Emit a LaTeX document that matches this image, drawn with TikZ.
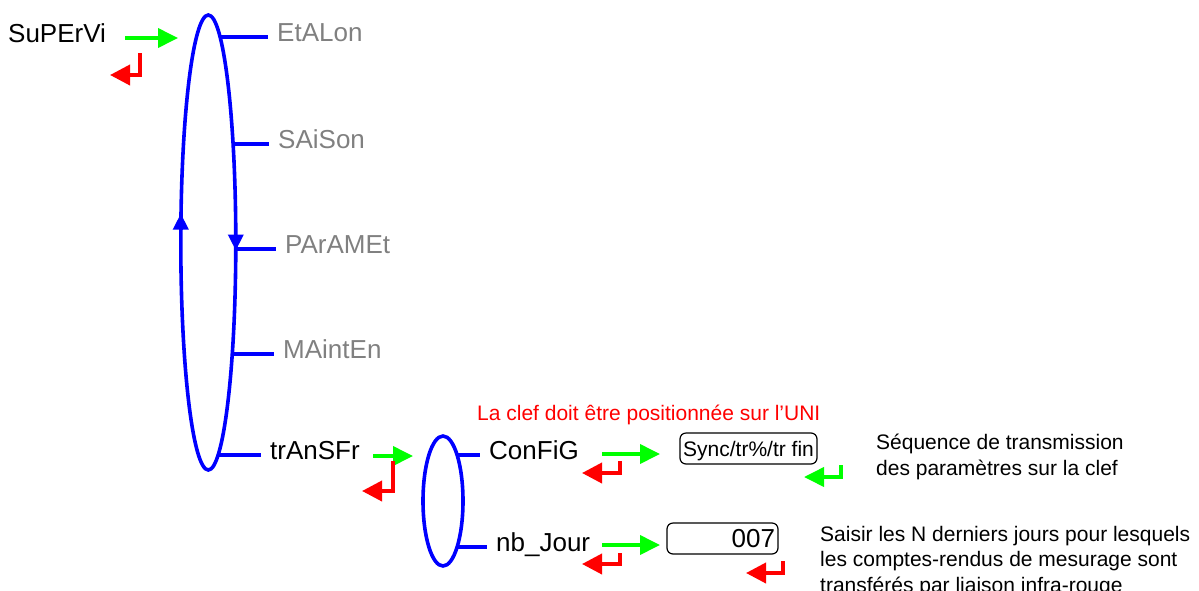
\documentclass[tikz,border=0pt]{standalone}
\usepackage{fontspec}
\setmainfont{Liberation Sans}
\usetikzlibrary{arrows.meta}
\usetikzlibrary{shapes.geometric}
\definecolor{menugray}{RGB}{128,128,128}
\definecolor{keygreen}{RGB}{0,255,0}

\begin{document}
\begin{tikzpicture}[x=1pt,y=-1pt,
	loopline/.style={draw=blue,line width=3.6pt,ellipse,inner sep=0pt,outer sep=0pt},
	tick/.style={blue,line width=3.6pt},
	item/.style={anchor=west,inner xsep=9pt,inner ysep=0pt,font=\fontsize{26}{31}\selectfont,text height=18.7pt,text depth=9pt},
	offitem/.style={item,text=menugray},
	note/.style={anchor=base west,inner sep=0pt,align=left,font=\fontsize{21}{25.5}\selectfont},
	valbox/.style={draw,line width=1.2pt,rounded corners=6pt,minimum height=31pt,inner xsep=2.5pt,inner ysep=0pt,text depth=0pt},
	enter/.style={keygreen,line width=3.8pt,-{Triangle[length=20pt,width=19pt]}},
	back/.style={red,line width=3.8pt,-{Triangle[length=20pt,width=20pt]}}]
	\useasboundingbox (0,0) rectangle (1199,590);
	% main menu loop
	\node[loopline,minimum width=55pt,minimum height=455pt] (bigloop) at (208.3,242.5) {};
	\node[item,inner xsep=0pt] (supervi) at (8,38) {SuPErVi};
	\node[offitem] (etalon) at (268,37) {EtALon};
	\node[offitem] (saison) at (269,144) {SAiSon};
	\node[offitem] (param) at (276,249) {PArAMEt};
	\node[offitem] (mainten) at (274,354) {MAintEn};
	\node[item] (transfer) at (261,455) {trAnSFr};
	\draw[tick] (bigloop.87 |- etalon) -- (etalon);
	\draw[tick] (bigloop.76 |- saison) -- (saison);
	\draw[tick] (bigloop.-13 |- param) -- (param);
	\draw[tick] (bigloop.-78 |- mainten) -- (mainten);
	\draw[tick] (bigloop.-87 |- transfer) -- (transfer);
	\draw[tick,-{Triangle[length=16pt,width=15pt]}] ([yshift=13pt]bigloop.west) -- ([yshift=29pt]bigloop.west);
	\draw[tick,-{Triangle[length=16pt,width=15pt]}] ([yshift=8pt]bigloop.east) -- ([yshift=-8pt]bigloop.east);
	% transfer sub-menu
	\node[loopline,minimum width=40pt,minimum height=130pt] (subloop) at (443,501) {};
	\node[item] (config) at (480,455) {ConFiG};
	\node[item] (nbjour) at (487,547) {nb\_Jour};
	\draw[tick] (subloop.73 |- config) -- (config);
	\draw[tick] (subloop.-73 |- nbjour) -- (nbjour);
	\node[anchor=west,inner sep=0pt,text=red,font=\fontsize{21}{25}\selectfont,text height=15.1pt,text depth=0pt] (uninote) at (477,412.5) {La clef doit être positionnée sur l’UNI};
	\node[valbox,font=\fontsize{21}{25}\selectfont,text height=15.1pt,minimum width=137pt] (sync) at (748.5,448.5) {Sync/tr\%/tr fin};
	\node[valbox,font=\fontsize{26}{31}\selectfont,text height=18.7pt,text width=105pt,align=right,inner xsep=3pt] (days) at (722.5,538.5) {007};
	\node[note] (syncnote) at (876,475) {Séquence de transmission\\des paramètres sur la clef};
	\node[note] (daysnote) at (820,592) {Saisir les N derniers jours pour lesquels\\les comptes-rendus de mesurage sont\\transférés par liaison infra-rouge};
	% keys
	\coordinate (sup-go) at (125,38);
	\coordinate (sup-in) at (178,38);
	\coordinate (sup-up) at (140,53);
	\coordinate (sup-out) at (110,75);
	\coordinate (tra-go) at (373,456);
	\coordinate (tra-in) at (413,456);
	\coordinate (tra-up) at (393,461);
	\coordinate (tra-out) at (362,491);
	\coordinate (cfg-go) at (602,454);
	\coordinate (cfg-in) at (660,454);
	\coordinate (cfg-up) at (620,461);
	\coordinate (cfg-out) at (582,473);
	\coordinate (nbj-go) at (602,545);
	\coordinate (nbj-in) at (660,545);
	\coordinate (nbj-up) at (620,553);
	\coordinate (nbj-out) at (582,564);
	\coordinate (syn-up) at (841,465);
	\coordinate (syn-out) at (804,477);
	\coordinate (day-up) at (783,561);
	\coordinate (day-out) at (746,573);
	\draw[enter] (sup-go) -- (sup-in);
	\draw[back] (sup-up) |- (sup-out);
	\draw[enter] (tra-go) -- (tra-in);
	\draw[back] (tra-up) |- (tra-out);
	\draw[enter] (cfg-go) -- (cfg-in);
	\draw[back] (cfg-up) |- (cfg-out);
	\draw[enter] (nbj-go) -- (nbj-in);
	\draw[back] (nbj-up) |- (nbj-out);
	\draw[enter] (syn-up) |- (syn-out);
	\draw[back] (day-up) |- (day-out);
\end{tikzpicture}
\end{document}
